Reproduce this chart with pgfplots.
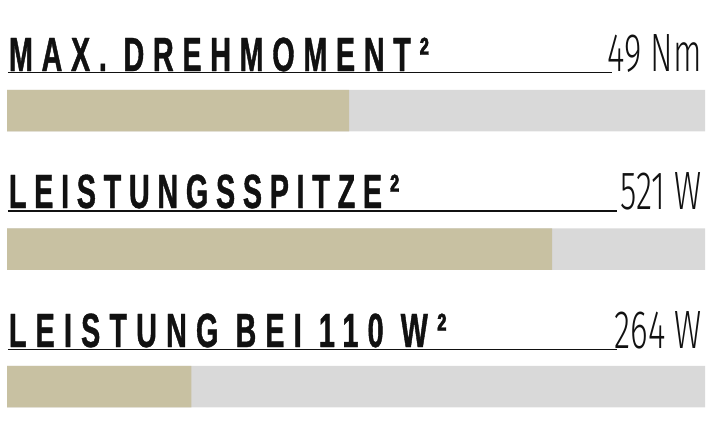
\documentclass[border=0pt]{standalone}
\usepackage{pgfplots}
\pgfplotsset{compat=1.18}
\usepackage{fontspec}
\setmainfont{Liberation Sans}
\newfontfamily\labfont{Liberation Sans}[FakeStretch=0.6, FakeBold=0.8]
\newfontfamily\valfont{Fira Sans Light}[FakeStretch=0.62]
\definecolor{tan}{HTML}{C8C1A2}
\definecolor{track}{HTML}{D9D9D9}
\definecolor{ink}{HTML}{111111}

% title text: letter spacing given per title
\newcommand{\lab}[2]{{\labfont\bfseries\addfontfeature{LetterSpace=#1}\fontsize{48}{48}\selectfont #2}}
\newcommand{\val}[1]{{\valfont\fontsize{54}{54}\selectfont #1}}

\begin{document}
\begin{tikzpicture}
\begin{axis}[
    scale only axis,
    width=712pt, height=442pt,
    xmin=-1.003, xmax=101.003,
    ymin=0, ymax=442,
    y dir=reverse,
    hide axis,
    clip=false,
]
% background tracks (100 %)
\addplot[xbar, bar shift=0pt, bar width=41.5pt, fill=track, draw=none]
    coordinates {(100,110.5) (100,249) (100,386.5)};
% values as share of the track
\addplot[xbar, bar shift=0pt, bar width=41.5pt, fill=tan, draw=none]
    coordinates {(49.0,110.5) (78.1,249) (26.4,386.5)};

% underlines
\draw[ink, line width=1.5pt] (axis cs:0.14,72.7) -- (axis cs:86.68,72.7);
\draw[ink, line width=1.5pt] (axis cs:0.14,211) -- (axis cs:87.39,211);
\draw[ink, line width=1.5pt] (axis cs:0.14,349.3) -- (axis cs:87.39,349.3);

% titles
\node[anchor=base west, inner sep=0, text=ink] at (axis cs:0.25,71) {\lab{18}{MAX. DREHMOMENT²}};
\node[anchor=base west, inner sep=0, text=ink] at (axis cs:0.25,208) {\lab{16}{LEISTUNGSSPITZE²}};
\node[anchor=base west, inner sep=0, text=ink] at (axis cs:0.25,347) {\lab{19}{LEISTUNG BEI 110 W²}};

% values
\node[anchor=base east, inner sep=0, text=ink] at (axis cs:99.6,71.5) {\val{49 Nm}};
\node[anchor=base east, inner sep=0, text=ink] at (axis cs:99.6,209) {\val{521 W}};
\node[anchor=base east, inner sep=0, text=ink] at (axis cs:99.6,348) {\val{264 W}};

\path (rel axis cs:0,0) rectangle (rel axis cs:1,1);
\end{axis}
\end{tikzpicture}
\end{document}
